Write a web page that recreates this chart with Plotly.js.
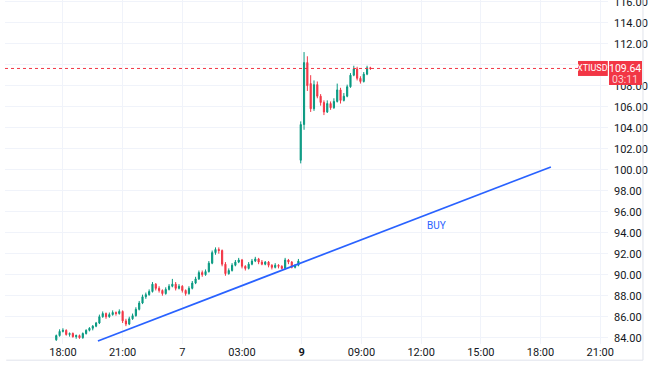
<!DOCTYPE html>
<html>
<head>
<meta charset="utf-8">
<script src="https://cdn.plot.ly/plotly-3.0.1.min.js"></script>
<style>
html,body{margin:0;padding:0;background:#ffffff;}
#chart{width:650px;height:365px;}
</style>
</head>
<body>
<div id="chart"></div>
<script>
// ---- DATA ----
const symbol = 'XTIUSD';
const lastPrice = 109.64;
const countdown = '03:11';
const barMinutes = 10;

// session 1 (day 6 evening -> day 7 morning), first bar at 17:40 (hours from 18:00 axis origin)
const s1Start = -1/3;
const s1Open  = [83.8,84.2,84.6,84.7,84.3,84.4,84.1,84.2,84.0,84.4,84.7,84.9,85.1,85.4,86.0,86.3,86.0,86.2,86.4,86.3,
                 86.5,85.6,85.3,85.8,86.1,86.7,87.3,87.9,88.1,88.4,89.1,88.7,88.5,88.2,88.6,88.9,89.1,88.7,88.9,88.5,
                 88.2,88.7,89.2,89.6,90.2,90.0,90.3,91.1,92.1,92.4,92.3,91.0,90.1,90.4,90.9,91.2,91.4,90.8,90.6,91.0,
                 91.3,91.5,91.2,91.0,91.2,90.9,90.7,90.9,90.8,90.6,91.4,91.2,90.7,90.9];
const s1High  = [84.3,84.8,84.9,84.8,84.5,84.5,84.3,84.3,84.5,84.8,85.0,85.2,85.5,86.2,86.5,86.4,86.4,86.6,86.5,86.7,
                 86.6,85.8,86.0,86.3,86.9,87.5,88.1,88.3,88.6,89.3,89.2,88.9,88.6,88.8,89.1,89.6,89.3,89.1,89.0,88.6,
                 88.9,89.4,89.8,90.4,90.4,90.5,91.3,92.3,92.6,92.6,92.4,91.2,90.6,91.1,91.4,91.6,91.5,90.9,91.2,91.5,
                 91.7,91.6,91.4,91.3,91.3,91.0,91.1,91.0,90.9,91.6,91.5,91.3,91.0,91.5];
const s1Low   = [83.7,84.1,84.5,84.2,84.1,84.0,83.9,83.9,83.9,84.3,84.6,84.7,85.0,85.3,85.9,85.8,85.9,86.1,86.1,86.2,
                 85.4,85.1,85.2,85.7,86.0,86.6,87.2,87.7,88.0,88.3,88.5,88.3,88.0,88.1,88.5,88.8,88.5,88.6,88.3,88.0,
                 88.1,88.6,89.1,89.5,89.8,89.9,90.2,91.0,91.9,92.0,90.8,89.9,90.0,90.3,90.8,91.1,90.6,90.4,90.5,90.9,
                 91.2,91.0,90.9,90.9,90.7,90.5,90.6,90.6,90.5,90.5,91.0,90.6,90.6,90.8];
const s1Close = [84.2,84.6,84.7,84.3,84.4,84.1,84.2,84.0,84.4,84.7,84.9,85.1,85.4,86.0,86.3,86.0,86.2,86.4,86.3,86.5,
                 85.6,85.3,85.8,86.1,86.7,87.3,87.9,88.1,88.4,89.1,88.7,88.5,88.2,88.6,88.9,89.1,88.7,88.9,88.5,88.2,
                 88.7,89.2,89.6,90.2,90.0,90.3,91.1,92.1,92.4,92.3,91.0,90.1,90.4,90.9,91.2,91.4,90.8,90.6,91.0,91.3,
                 91.5,91.2,91.0,91.2,90.9,90.7,90.9,90.8,90.6,91.4,91.2,90.7,90.9,91.3];

// session 2 (day 9), first bar at the "9" tick
const s2Start = 11.95;
const s2Open  = [100.9,104.3,110.2,108.2,105.8,108.1,107.0,106.4,105.5,106.3,105.9,106.5,107.6,106.6,107.0,107.9,109.0,109.6,108.7,108.4,109.1,109.7];
const s2High  = [104.6,111.2,110.8,109.0,108.5,108.4,107.2,106.6,106.6,106.5,106.8,108.2,107.8,107.3,108.1,109.2,109.9,109.8,108.9,109.3,109.9,109.8];
const s2Low   = [100.6,103.8,107.5,105.5,105.6,106.8,106.1,105.2,105.4,105.7,105.8,106.4,106.3,106.5,106.9,107.8,108.9,108.5,108.2,108.3,109.0,109.5];
const s2Close = [104.3,110.2,108.0,105.8,108.1,107.0,106.4,105.5,106.3,105.9,106.5,107.6,106.6,107.0,107.9,109.0,109.6,108.7,108.4,109.1,109.7,109.64];

// time axis (compressed hours from 18:00 of day 6)
const xTickVals = [0,3,6,9,12,15,18,21,24,27];
const xTickText = ['18:00','21:00','7','03:00','<b>9</b>','09:00','12:00','15:00','18:00','21:00'];
const yTickVals = [84,86,88,90,92,94,96,98,100,102,104,106,108,110,112,114,116];
const yHiddenTick = 110; // covered by the price tag

// trend line drawing (hours, price) and label
const trendX = [1.76, 24.52];
const trendY = [83.69, 100.26];
const buyLabel = {text:'BUY', x:18.79, y:94.64};

// ---- BUILD ----
function times(start, n){ const a=[]; for(let i=0;i<n;i++) a.push(start + i*barMinutes/60); return a; }
const x = times(s1Start, s1Open.length).concat(times(s2Start, s2Open.length));
const open = s1Open.concat(s2Open), high = s1High.concat(s2High), low = s1Low.concat(s2Low), close = s1Close.concat(s2Close);

const up = '#089981', down = '#f23645', blue = '#2962ff';
const font = 'Roboto, "Noto Sans", sans-serif';
const yRange = [83.4, 116.16];
const plotH = 344;
const p = (lastPrice - yRange[0]) / (yRange[1] - yRange[0]); // paper y of last price
const px = v => v / plotH; // pixel offset -> paper units (vertical)

const trace = {
  type:'candlestick', x:x, open:open, high:high, low:low, close:close,
  increasing:{line:{color:up,width:1}, fillcolor:up},
  decreasing:{line:{color:down,width:1}, fillcolor:down},
  whiskerwidth:0, hoverinfo:'skip', showlegend:false
};
const trend = {
  type:'scatter', mode:'lines', x:trendX, y:trendY,
  line:{color:blue,width:1.7}, hoverinfo:'skip', showlegend:false
};

const layout = {
  width:650, height:365,
  margin:{l:5, r:42, t:0, b:21},
  paper_bgcolor:'#ffffff', plot_bgcolor:'#ffffff',
  font:{family:font, size:11, color:'#131722'},
  showlegend:false, hovermode:false, dragmode:false,
  xaxis:{
    type:'linear', range:[-2.91, 27.39], rangeslider:{visible:false},
    tickvals:xTickVals, ticktext:xTickText, ticks:'', showgrid:true, gridcolor:'#f0f3fa', gridwidth:1,
    zeroline:false, showline:false, tickfont:{size:11, color:'#131722'}, fixedrange:true
  },
  yaxis:{
    side:'right', range:yRange, tickvals:yTickVals,
    ticktext:yTickVals.map(v => v === yHiddenTick ? '' : v.toFixed(2)),
    ticks:'', showgrid:true, gridcolor:'#f0f3fa', gridwidth:1, zeroline:false, showline:false,
    tickfont:{size:11, color:'#131722'}, ticklabelstandoff:5, ticklabeloverflow:'allow', fixedrange:true
  },
  shapes:[
    {type:'line', xref:'paper', x0:0, x1:1, yref:'y', y0:lastPrice, y1:lastPrice,
     line:{color:down, width:1, dash:'dot'}},
    {type:'line', xref:'paper', x0:1.058, x1:1.058, yref:'paper', y0:-0.047, y1:1,
     line:{color:'#e0e3eb', width:1}},
    {type:'line', xref:'paper', x0:0.002, x1:1.058, yref:'paper', y0:-0.047, y1:-0.047,
     line:{color:'#e0e3eb', width:1}},
    // symbol tag box
    {type:'rect', layer:'above', xref:'paper', yref:'paper', x0:0.9502, x1:0.9997, y0:p-px(7.5), y1:p+px(7.5),
     fillcolor:down, line:{width:0}},
    // price tag box
    {type:'rect', layer:'above', xref:'paper', yref:'paper', x0:1.0017, x1:1.0564, y0:p-px(16.5), y1:p+px(7.5),
     fillcolor:down, line:{width:0}}
  ],
  annotations:[
    {xref:'x', yref:'y', x:buyLabel.x, y:buyLabel.y, text:buyLabel.text, showarrow:false,
     xanchor:'center', yanchor:'middle', font:{family:font, size:10, color:blue}},
    {xref:'paper', yref:'paper', x:0.975, y:p, xanchor:'center', yanchor:'middle', text:symbol, showarrow:false,
     font:{family:font, size:9, color:'#ffffff'}},
    {xref:'paper', yref:'paper', x:1.029, y:p, xanchor:'center', yanchor:'middle', text:lastPrice.toFixed(2), showarrow:false,
     font:{family:font, size:10.5, color:'#ffffff'}},
    {xref:'paper', yref:'paper', x:1.029, y:p-px(11), xanchor:'center', yanchor:'middle', text:countdown, showarrow:false,
     font:{family:font, size:10.5, color:'#fbd0d4'}}
  ]
};

Plotly.newPlot('chart', [trace, trend], layout, {staticPlot:true, displayModeBar:false});
</script>
</body>
</html>
